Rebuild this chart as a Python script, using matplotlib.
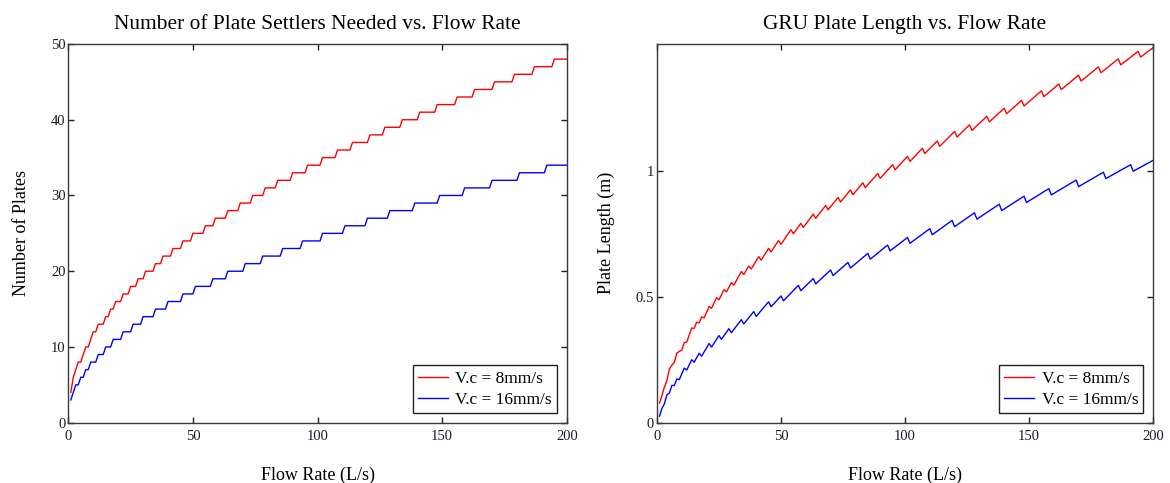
import matplotlib
matplotlib.use("Agg")
import matplotlib.pyplot as plt
from matplotlib.lines import Line2D

plt.rcParams['font.family'] = ['Liberation Serif', 'DejaVu Serif']

# ---------------- data ----------------
flow_max = 200
x_ticks = [0, 50, 100, 150, 200]

# V.c = 8 mm/s : plate count and first flow rate (L/s) of each count
red_n = [4, 6, 7, 8, 9, 10, 11, 12, 13, 14, 15, 16, 17, 18, 19, 20, 21, 22, 23, 24,
         25, 26, 27, 28, 29, 30, 31, 32, 33, 34, 35, 36, 37, 38, 39, 40, 41, 42, 43,
         44, 45, 46, 47, 48]
red_q = [1, 2, 3, 4, 6, 7, 9, 10, 12, 15, 17, 19, 22, 25, 28, 31, 35, 38, 42, 46,
         50, 55, 59, 64, 69, 74, 79, 84, 90, 96, 102, 108, 114, 121, 127, 134, 141, 148, 156,
         163, 171, 179, 187, 195]
# plate length (m) at the start and end of each plate-count segment
red_len_start = [0.078, 0.108, 0.142, 0.168, 0.228, 0.240, 0.283, 0.288, 0.320, 0.374,
                 0.396, 0.416, 0.454, 0.488, 0.519, 0.546, 0.588, 0.610, 0.645, 0.678,
                 0.708, 0.750, 0.775, 0.811, 0.845, 0.876, 0.905, 0.933, 0.970, 1.004,
                 1.037, 1.068, 1.097, 1.134, 1.160, 1.194, 1.226, 1.257, 1.294, 1.322,
                 1.356, 1.389, 1.420, 1.451]
red_len_end = [0.078, 0.108, 0.142, 0.213, 0.228, 0.276, 0.283, 0.318, 0.376, 0.399,
               0.420, 0.461, 0.496, 0.528, 0.556, 0.600, 0.622, 0.659, 0.692, 0.723,
               0.766, 0.791, 0.828, 0.862, 0.894, 0.924, 0.952, 0.989, 1.024, 1.057,
               1.089, 1.118, 1.156, 1.182, 1.216, 1.248, 1.279, 1.317, 1.344, 1.379,
               1.412, 1.444, 1.474, 1.488]

# V.c = 16 mm/s
blue_n = [3, 4, 5, 6, 7, 8, 9, 10, 11, 12, 13, 14, 15, 16, 17, 18, 19, 20, 21, 22,
          23, 24, 25, 26, 27, 28, 29, 30, 31, 32, 33, 34]
blue_q = [1, 2, 3, 5, 7, 9, 12, 15, 18, 22, 26, 30, 35, 40, 46, 51, 58, 64, 71, 78,
          86, 94, 102, 111, 120, 129, 139, 149, 159, 170, 181, 192]
blue_len_start = [0.026, 0.057, 0.075, 0.118, 0.148, 0.171, 0.209, 0.240, 0.264, 0.300,
                  0.331, 0.357, 0.392, 0.422, 0.460, 0.484, 0.524, 0.551, 0.584, 0.614,
                  0.649, 0.682, 0.712, 0.746, 0.778, 0.808, 0.842, 0.874, 0.904, 0.937,
                  0.969, 0.998]
blue_len_end = [0.026, 0.057, 0.111, 0.148, 0.174, 0.217, 0.250, 0.276, 0.314, 0.346,
                0.373, 0.409, 0.441, 0.480, 0.503, 0.545, 0.572, 0.606, 0.636, 0.672,
                0.705, 0.735, 0.770, 0.803, 0.833, 0.867, 0.899, 0.929, 0.963, 0.994,
                1.024, 1.041]

labels = ["V.c = 8mm/s", "V.c = 16mm/s"]
colors = ["#ff0000", "#0000ff"]


def segments(qs, v_start, v_end):
    xs, ys = [], []
    for i, q in enumerate(qs):
        q_end = qs[i + 1] - 1 if i + 1 < len(qs) else flow_max
        xs += [q, q_end]
        ys += [v_start[i], v_end[i]]
    return xs, ys


# ---------------- figure ----------------
fig = plt.figure(figsize=(11.7, 4.83), dpi=100)
ax1 = fig.add_axes([68.3 / 1170, 60.3 / 483, 498.5 / 1170, 378.7 / 483])
ax2 = fig.add_axes([657 / 1170, 60.3 / 483, 496 / 1170, 378.7 / 483])

spine_col = "#3a3a3a"
txt_col = "#1a1a2a"

x, y = segments(red_q, red_n, red_n)
ax1.plot(x, y, color=colors[0], lw=1.0)
x, y = segments(blue_q, blue_n, blue_n)
ax1.plot(x, y, color=colors[1], lw=1.0)

x, y = segments(red_q, red_len_start, red_len_end)
ax2.plot(x, y, color=colors[0], lw=1.0)
x, y = segments(blue_q, blue_len_start, blue_len_end)
ax2.plot(x, y, color=colors[1], lw=1.0)

ax1.set_xlim(0, 200)
ax1.set_ylim(0, 50)
ax1.set_xticks(x_ticks)
ax1.set_yticks([0, 10, 20, 30, 40, 50])
ax2.set_xlim(0, 200)
ax2.set_ylim(0, 1.503)
ax2.set_xticks(x_ticks)
ax2.set_yticks([0, 0.5, 1])
ax2.set_yticklabels(["0", "0.5", "1"])

ax1.set_title("Number of Plate Settlers Needed vs. Flow Rate", fontsize=15.4, pad=11)
ax2.set_title("GRU Plate Length vs. Flow Rate", fontsize=15.4, pad=11)
ax1.set_xlabel("Flow Rate (L/s)", fontsize=13, labelpad=17)
ax2.set_xlabel("Flow Rate (L/s)", fontsize=13, labelpad=17)
ax1.set_ylabel("Number of Plates", fontsize=13, labelpad=15)
ax2.set_ylabel("Plate Length (m)", fontsize=13, labelpad=15)

for ax in (ax1, ax2):
    for s in ax.spines.values():
        s.set_color(spine_col)
        s.set_linewidth(1.0)
    ax.tick_params(direction="in", top=True, right=True, length=4.5, width=1.0,
                   color="#222222", labelsize=10.5, labelcolor=txt_col)
    ax.tick_params(axis="x", pad=5)
    ax.tick_params(axis="y", pad=2)
    handles = [Line2D([], [], color=c, lw=1.0) for c in colors]
    leg = ax.legend(handles, labels, loc="lower right", fontsize=12.5,
                    fancybox=False, framealpha=1, edgecolor="#222222",
                    handlelength=1.7, handletextpad=0.45, borderaxespad=0.55,
                    labelspacing=0.3, borderpad=0.3)
    leg.get_frame().set_linewidth(1.0)

fig.savefig("out.png", dpi=100)
